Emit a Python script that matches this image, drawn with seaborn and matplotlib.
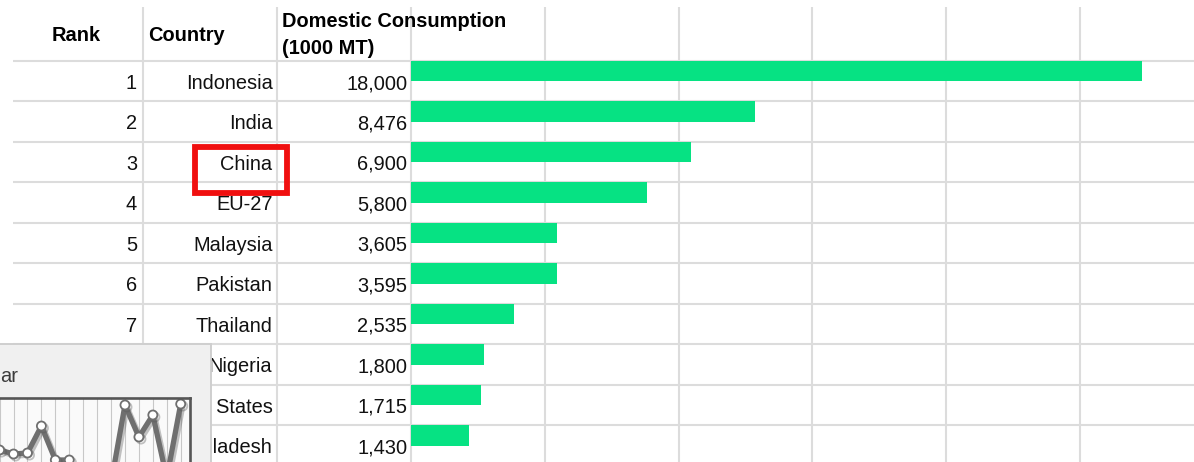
import matplotlib
matplotlib.use("Agg")
import matplotlib.pyplot as plt
import matplotlib.patheffects as pe
from matplotlib.patches import Rectangle
import seaborn as sns
import pandas as pd

# ---------------- data ----------------
ranks = [1, 2, 3, 4, 5, 6, 7, 8, 9, 10]
countries = ["Indonesia", "India", "China", "EU-27", "Malaysia", "Pakistan",
             "Thailand", "Nigeria", "United States", "Bangladesh"]
consumption = [18000, 8476, 6900, 5800, 3605, 3595, 2535, 1800, 1715, 1430]
header_rank = "Rank"
header_country = "Country"
header_value = "Domestic Consumption\n(1000 MT)"
highlight_country = "China"

# small overlapping window (partly visible line chart)
inset_title = "ar"
inset_x = [-2, -1, 0, 1, 2, 3, 4, 5, 6, 7, 8, 9, 10, 11, 12]
inset_values = [75, 70, 66, 67, 94, 60, 60, 40, 25, 37, 115, 83, 105, 42, 116]

# ---------------- layout (pixels) ----------------
W, H = 1194, 462
DPI = 100
FS = 20 * 72 / DPI  # 20 px font
row_top0 = 60.7
row_h = 40.48
bar_x0 = 411.0
px_per_unit = (1142 - 411) / 18000.0
col_pitch = 133.8
grid_col = "#dcdcdc"
bar_color = "#06e283"

sns.set_theme(style="white")
plt.rcParams["font.family"] = ["Liberation Sans", "DejaVu Sans"]

fig = plt.figure(figsize=(W / DPI, H / DPI), dpi=DPI)

# background table axes in pixel coordinates
bg = fig.add_axes([0, 0, 1, 1])
bg.set_xlim(0, W)
bg.set_ylim(H, 0)
bg.axis("off")
bg.set_zorder(0)

# vertical column lines
for k in range(-2, 6):
    xx = bar_x0 + col_pitch * k
    bg.plot([xx, xx], [7, H], color=grid_col, lw=1.5, zorder=1,
            solid_capstyle="butt")
# horizontal row lines
n = len(countries)
for i in range(n):
    yy = row_top0 + row_h * i
    bg.plot([13, W], [yy, yy], color=grid_col, lw=1.5, zorder=1,
            solid_capstyle="butt")

# headers
bg.text(76, 40.7, header_rank, ha="center", va="baseline", fontsize=FS,
        fontweight="bold", color="#000000")
bg.text(148, 40.7, header_country, ha="left", va="baseline", fontsize=FS,
        fontweight="bold", color="#000000")
hv = header_value.split("\n")
bg.text(282, 26.7, hv[0], ha="left", va="baseline", fontsize=FS,
        fontweight="bold", color="#000000")
bg.text(282, 54.0, hv[1], ha="left", va="baseline", fontsize=FS,
        fontweight="bold", color="#000000")

# row texts
for i, (r, c, v) in enumerate(zip(ranks, countries, consumption)):
    base = row_top0 + row_h * i + 28.3
    bg.text(137, base, str(r), ha="right", va="baseline", fontsize=FS,
            color="#111111")
    bg.text(272.5, base, c, ha="right", va="baseline", fontsize=FS,
            color="#111111")
    bg.text(407.5, base, f"{v:,}", ha="right", va="baseline", fontsize=FS,
            color="#111111")
    if c == highlight_country:
        top = row_top0 + row_h * i
        bg.add_patch(Rectangle((195.2, top + 5.2), 91.3, 46.5, fill=False,
                               edgecolor="#f00f0f", lw=4.2, zorder=5))

# bars via seaborn in data coordinates
ax = fig.add_axes([0, 0, 1, 1])
ax.set_zorder(1)
ax.patch.set_alpha(0)
df = pd.DataFrame({"country": countries, "value": consumption})
sns.barplot(data=df, x="value", y="country", orient="h", color=bar_color,
            saturation=1, width=20.5 / row_h, linewidth=0, ax=ax)
ax.set_xlim(-bar_x0 / px_per_unit, (W - bar_x0) / px_per_unit)
c0 = row_top0 + 10.25
ax.set_ylim((H - c0) / row_h, -c0 / row_h)
ax.axis("off")

# overlay window panel
ov = fig.add_axes([0, 0, 1, 1])
ov.set_zorder(2)
ov.patch.set_alpha(0)
ov.set_xlim(0, W)
ov.set_ylim(H, 0)
ov.axis("off")
ov.add_patch(Rectangle((-5, 343.5), 216, 130, facecolor="#f0f0f0",
                       edgecolor="#cfcfcf", lw=1.4, zorder=1))
ov.text(0.5, 382, inset_title, ha="left", va="baseline", fontsize=FS,
        color="#3c3c3c", zorder=2)

# inset line chart (partly outside the picture)
in_left, in_right, in_top, in_bottom = -60, 190, 398, 520
ins = fig.add_axes([in_left / W, (H - in_bottom) / H,
                    (in_right - in_left) / W, (in_bottom - in_top) / H])
ins.set_zorder(3)
ins.set_facecolor("#fafafa")
sns.lineplot(x=inset_x, y=inset_values, ax=ins, color="#6f6f6f", lw=3.8,
             marker="o", markersize=6.5, markerfacecolor="white",
             markeredgecolor="#6f6f6f", markeredgewidth=1.3,
             path_effects=[pe.SimpleLineShadow(offset=(1.5, -1.5),
                                               shadow_color="#555555",
                                               alpha=0.35),
                           pe.Normal()])
step = 13.93
xr = 12 + (in_right - 180.7) / step
ins.set_xlim(xr - (in_right - in_left) / step, xr)
ins.set_ylim(0, in_bottom - in_top)
ins.set_xticks(range(-5, 13))
ins.set_yticks([])
ins.grid(True, axis="x", color="#c8c8c8", lw=0.8)
ins.tick_params(length=0, labelbottom=False, labelleft=False)
for sp in ins.spines.values():
    sp.set_color("#555555")
    sp.set_linewidth(1.9)

fig.savefig("out.png", dpi=DPI)
